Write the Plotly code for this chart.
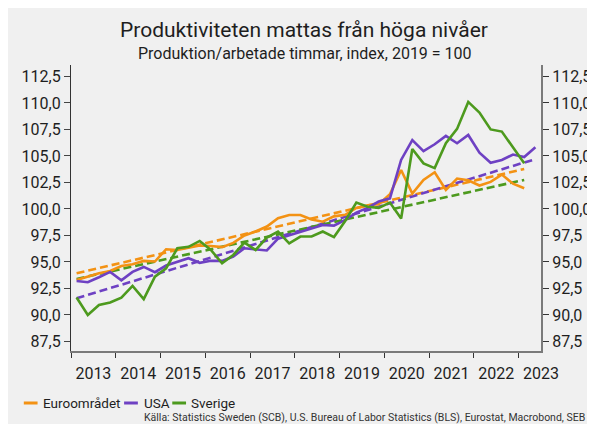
import plotly.graph_objects as go

# ---------------- data ----------------
quarters = [f"{y}Q{q}" for y in range(2013, 2024) for q in range(1, 5)][:42]

euro = [93.3, 93.62, 93.93, 94.15, 94.62, 94.78, 95.1, 95.04, 96.2, 96.13,
        96.36, 96.55, 96.5, 96.4, 96.8, 97.5, 97.87, 98.34, 99.12, 99.43,
        99.43, 99.0, 98.8, 99.3, 99.45, 100.1, 100.35, 100.44, 101.39, 103.68,
        101.45, 102.74, 103.46, 101.8, 102.87, 102.7, 102.21, 102.55, 103.24, 102.38,
        101.95]
usa = [93.21, 93.09, 93.56, 94.06, 93.27, 94.06, 94.53, 94.03, 94.66, 95.04,
       95.35, 94.92, 95.12, 95.1, 95.51, 96.29, 96.22, 96.08, 97.2, 97.52,
       97.84, 98.18, 98.49, 98.43, 98.96, 99.65, 100.1, 100.7, 101.0, 104.62,
       106.5, 105.45, 106.1, 106.89, 106.2, 106.98, 105.3, 104.35, 104.62, 105.13,
       104.9, 105.82]
sverige = [91.64, 90.0, 90.94, 91.17, 91.64, 92.74, 91.5, 93.62, 94.4, 96.29,
           96.43, 96.98, 96.13, 94.88, 95.66, 96.83, 96.13, 97.3, 97.87, 96.76,
           97.4, 97.4, 97.87, 97.35, 98.87, 100.6, 100.2, 100.1, 100.6, 99.1,
           105.65, 104.3, 103.85, 106.2, 107.55, 110.1, 109.1, 107.5, 107.3, 105.8,
           104.3]

# trend lines: value at first and last quarter of each series
euro_trend = [93.93, 103.77]
usa_trend = [91.57, 104.7]
sverige_trend = [93.4, 102.74]

year_labels = [str(y) for y in range(2013, 2024)]
y_ticks = [87.5, 90.0, 92.5, 95.0, 97.5, 100.0, 102.5, 105.0, 107.5, 110.0, 112.5]

names = ["Euroområdet", "USA", "Sverige"]
colors = ["#F39214", "#6E41C3", "#4D9A1E"]

title = "Produktiviteten mattas från höga nivåer"
subtitle = "Produktion/arbetade timmar, index, 2019 = 100"
source = "Källa: Statistics Sweden (SCB), U.S. Bureau of Labor Statistics (BLS), Eurostat, Macrobond, SEB"

# ---------------- helpers ----------------
def qpos(q):
    y, n = q.split("Q")
    return int(y) + (int(n) - 0.5) / 4

xs = [qpos(q) for q in quarters]

W, H = 595, 424
L, R, T, B = 63, 54, 57, 81
pw, ph = W - L - R, H - T - B

def px(x):
    return (x - L) / pw

def py(y):
    return (H - B - y) / ph

FONT = "Roboto"
TXT = "#1e1e1e"

fig = go.Figure()

series = [euro, usa, sverige]
trends = [euro_trend, usa_trend, sverige_trend]

for s, tr, c, n in zip(series, trends, colors, names):
    xx = xs[:len(s)]
    fig.add_trace(go.Scatter(x=[xx[0], xx[-1]], y=tr, mode="lines",
                             line=dict(color=c, width=2.6, dash="8px,4px"),
                             showlegend=False, hoverinfo="skip"))

for s, c, n in zip(series, colors, names):
    fig.add_trace(go.Scatter(x=xs[:len(s)], y=s, mode="lines", name=n,
                             line=dict(color=c, width=2.6), showlegend=False))

yr = [86.6, 113.58]
TICKFONT = dict(size=16, family=FONT, color=TXT)
fig.update_layout(
    width=W, height=H,
    margin=dict(l=L, r=R, t=T, b=B),
    paper_bgcolor="#f0f0f0", plot_bgcolor="#f0f0f0",
    separators=", ",
    font=dict(family=FONT, color=TXT, size=14),
    xaxis=dict(range=[2013, 2023.5], tickvals=[y + 0.5 for y in range(2013, 2024)],
               ticktext=year_labels, ticks="outside", ticklen=7,
               tickcolor="rgba(0,0,0,0)", showgrid=False, zeroline=False,
               showline=True, linecolor="#7a7a7a", linewidth=2,
               tickfont=TICKFONT,
               minor=dict(tickvals=list(range(2013, 2024)), ticks="outside",
                          ticklen=5, tickcolor="#333", tickwidth=1.2, showgrid=False)),
    yaxis=dict(range=yr, tickvals=y_ticks, tickformat=".1f", ticks="outside",
               ticklen=6, tickcolor="#444", showgrid=False, zeroline=False,
               showline=True, linecolor="#333", linewidth=1.2,
               tickfont=TICKFONT),
    yaxis2=dict(range=yr, tickvals=y_ticks, tickformat=".1f", ticks="outside",
                ticklen=6, tickcolor="#333", showgrid=False, zeroline=False,
                overlaying="y", side="right", showline=True, linecolor="#7a7a7a",
                linewidth=2, tickfont=TICKFONT),
)
# invisible trace to activate the right axis
fig.add_trace(go.Scatter(x=[xs[0]], y=[100], yaxis="y2", mode="markers",
                         marker=dict(opacity=0), showlegend=False, hoverinfo="skip"))

ann = []
ann.append(dict(text=title, x=px(300), y=py(22), xref="paper", yref="paper",
                showarrow=False, font=dict(size=21, family=FONT, color=TXT),
                xanchor="center", yanchor="middle"))
ann.append(dict(text=subtitle, x=px(301), y=py(46), xref="paper", yref="paper",
                showarrow=False, font=dict(size=16, family=FONT, color=TXT),
                xanchor="center", yanchor="middle"))
ann.append(dict(text=source, x=px(588), y=py(418), xref="paper", yref="paper",
                showarrow=False, font=dict(size=10.5, family=FONT, color="#333"),
                xanchor="right", yanchor="bottom"))

legend_items = [(15, 32), (117, 135), (166, 183)]
shapes = []
for (lx, tx), c, n in zip(legend_items, colors, names):
    shapes.append(dict(type="line", xref="paper", yref="paper",
                       x0=px(lx), x1=px(lx + 14), y0=py(395), y1=py(395),
                       line=dict(color=c, width=3)))
    ann.append(dict(text=n, x=px(tx), y=py(395), xref="paper", yref="paper",
                    showarrow=False, font=dict(size=13.5, family=FONT, color=TXT),
                    xanchor="left", yanchor="middle"))

fig.update_layout(annotations=ann, shapes=shapes)
fig.write_html("out.html")
